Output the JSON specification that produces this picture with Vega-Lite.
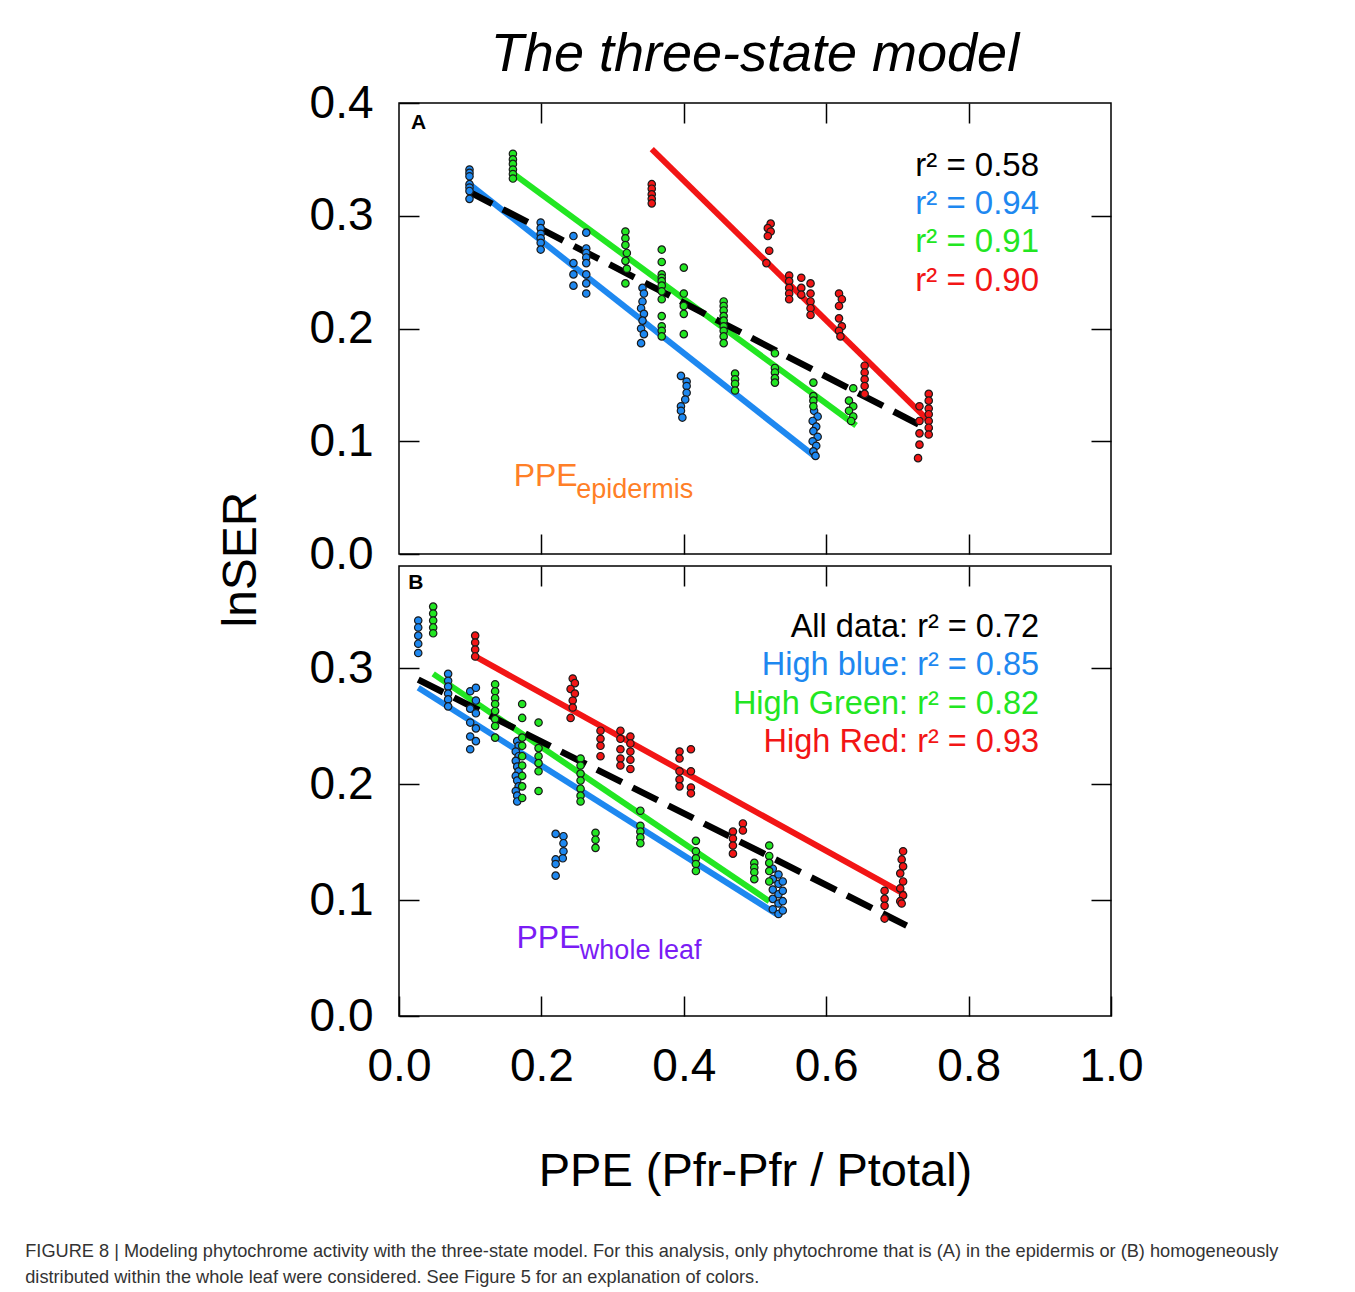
{
  "$schema": "https://vega.github.io/schema/vega-lite/v6.json",
  "padding": {"left": 25, "top": 27, "right": 5, "bottom": 5},
  "title": {
    "text": ["FIGURE 8 | Modeling phytochrome activity with the three-state model. For this analysis, only phytochrome that is (A) in the epidermis or (B) homogeneously", "distributed within the whole leaf were considered. See Figure 5 for an explanation of colors."],
    "orient": "bottom", "anchor": "start", "frame": "bounds", "dx": -191,
    "fontSize": 18.2, "fontWeight": "normal", "font": "Liberation Sans", "color": "#333333", "lineHeight": 26, "offset": 48
  },
  "datasets": {
    "ptsA": [
      {"g":"blue","x":0.099,"y":0.341},{"g":"blue","x":0.099,"y":0.338},{"g":"blue","x":0.099,"y":0.335},{"g":"blue","x":0.099,"y":0.328},{"g":"blue","x":0.099,"y":0.325},{"g":"blue","x":0.099,"y":0.322},{"g":"blue","x":0.099,"y":0.315},
      {"g":"blue","x":0.199,"y":0.294},{"g":"blue","x":0.199,"y":0.289},{"g":"blue","x":0.199,"y":0.284},{"g":"blue","x":0.199,"y":0.280},{"g":"blue","x":0.199,"y":0.276},{"g":"blue","x":0.199,"y":0.270},
      {"g":"blue","x":0.245,"y":0.282},{"g":"blue","x":0.245,"y":0.258},{"g":"blue","x":0.245,"y":0.248},{"g":"blue","x":0.245,"y":0.238},
      {"g":"blue","x":0.263,"y":0.285},{"g":"blue","x":0.263,"y":0.271},{"g":"blue","x":0.263,"y":0.267},{"g":"blue","x":0.263,"y":0.263},{"g":"blue","x":0.263,"y":0.258},{"g":"blue","x":0.263,"y":0.248},{"g":"blue","x":0.263,"y":0.240},{"g":"blue","x":0.263,"y":0.231},
      {"g":"blue","x":0.342,"y":0.236},{"g":"blue","x":0.344,"y":0.231},{"g":"blue","x":0.342,"y":0.224},{"g":"blue","x":0.340,"y":0.218},{"g":"blue","x":0.344,"y":0.213},{"g":"blue","x":0.342,"y":0.207},{"g":"blue","x":0.340,"y":0.200},{"g":"blue","x":0.344,"y":0.195},{"g":"blue","x":0.340,"y":0.187},
      {"g":"blue","x":0.396,"y":0.158},{"g":"blue","x":0.404,"y":0.153},{"g":"blue","x":0.404,"y":0.149},{"g":"blue","x":0.404,"y":0.143},{"g":"blue","x":0.402,"y":0.137},{"g":"blue","x":0.396,"y":0.131},{"g":"blue","x":0.396,"y":0.127},{"g":"blue","x":0.398,"y":0.121},
      {"g":"blue","x":0.583,"y":0.127},{"g":"blue","x":0.588,"y":0.122},{"g":"blue","x":0.581,"y":0.118},{"g":"blue","x":0.586,"y":0.113},{"g":"blue","x":0.582,"y":0.109},{"g":"blue","x":0.588,"y":0.104},{"g":"blue","x":0.581,"y":0.100},{"g":"blue","x":0.586,"y":0.096},{"g":"blue","x":0.582,"y":0.091},{"g":"blue","x":0.585,"y":0.087},
      {"g":"green","x":0.160,"y":0.355},{"g":"green","x":0.160,"y":0.350},{"g":"green","x":0.160,"y":0.346},{"g":"green","x":0.160,"y":0.341},{"g":"green","x":0.160,"y":0.337},{"g":"green","x":0.160,"y":0.333},
      {"g":"green","x":0.318,"y":0.286},{"g":"green","x":0.318,"y":0.280},{"g":"green","x":0.318,"y":0.274},{"g":"green","x":0.320,"y":0.267},{"g":"green","x":0.318,"y":0.260},{"g":"green","x":0.320,"y":0.253},{"g":"green","x":0.318,"y":0.240},
      {"g":"green","x":0.369,"y":0.270},{"g":"green","x":0.369,"y":0.259},{"g":"green","x":0.369,"y":0.248},{"g":"green","x":0.369,"y":0.245},{"g":"green","x":0.369,"y":0.242},{"g":"green","x":0.369,"y":0.238},{"g":"green","x":0.369,"y":0.233},{"g":"green","x":0.369,"y":0.226},{"g":"green","x":0.369,"y":0.211},{"g":"green","x":0.369,"y":0.202},{"g":"green","x":0.369,"y":0.198},{"g":"green","x":0.369,"y":0.193},
      {"g":"green","x":0.400,"y":0.254},{"g":"green","x":0.400,"y":0.231},{"g":"green","x":0.400,"y":0.220},{"g":"green","x":0.400,"y":0.213},{"g":"green","x":0.400,"y":0.195},
      {"g":"green","x":0.456,"y":0.224},{"g":"green","x":0.456,"y":0.220},{"g":"green","x":0.456,"y":0.216},{"g":"green","x":0.456,"y":0.211},{"g":"green","x":0.456,"y":0.207},{"g":"green","x":0.456,"y":0.202},{"g":"green","x":0.456,"y":0.198},{"g":"green","x":0.456,"y":0.193},{"g":"green","x":0.456,"y":0.187},
      {"g":"green","x":0.472,"y":0.160},{"g":"green","x":0.472,"y":0.155},{"g":"green","x":0.472,"y":0.151},{"g":"green","x":0.472,"y":0.145},
      {"g":"green","x":0.528,"y":0.178},{"g":"green","x":0.528,"y":0.165},{"g":"green","x":0.528,"y":0.161},{"g":"green","x":0.528,"y":0.156},{"g":"green","x":0.528,"y":0.152},
      {"g":"green","x":0.582,"y":0.152},{"g":"green","x":0.582,"y":0.140},{"g":"green","x":0.582,"y":0.136},{"g":"green","x":0.582,"y":0.131},
      {"g":"green","x":0.638,"y":0.147},{"g":"green","x":0.632,"y":0.136},{"g":"green","x":0.638,"y":0.131},{"g":"green","x":0.632,"y":0.127},{"g":"green","x":0.638,"y":0.122},{"g":"green","x":0.635,"y":0.118},
      {"g":"red","x":0.355,"y":0.328},{"g":"red","x":0.355,"y":0.324},{"g":"red","x":0.355,"y":0.319},{"g":"red","x":0.355,"y":0.315},{"g":"red","x":0.355,"y":0.311},
      {"g":"red","x":0.522,"y":0.293},{"g":"red","x":0.518,"y":0.289},{"g":"red","x":0.522,"y":0.286},{"g":"red","x":0.518,"y":0.282},{"g":"red","x":0.520,"y":0.269},{"g":"red","x":0.516,"y":0.258},
      {"g":"red","x":0.548,"y":0.247},{"g":"red","x":0.548,"y":0.242},{"g":"red","x":0.548,"y":0.236},{"g":"red","x":0.548,"y":0.231},{"g":"red","x":0.548,"y":0.226},
      {"g":"red","x":0.565,"y":0.245},{"g":"red","x":0.565,"y":0.236},{"g":"red","x":0.565,"y":0.230},
      {"g":"red","x":0.578,"y":0.240},{"g":"red","x":0.578,"y":0.231},{"g":"red","x":0.578,"y":0.224},{"g":"red","x":0.578,"y":0.218},{"g":"red","x":0.578,"y":0.212},
      {"g":"red","x":0.618,"y":0.231},{"g":"red","x":0.622,"y":0.226},{"g":"red","x":0.618,"y":0.220},{"g":"red","x":0.618,"y":0.209},{"g":"red","x":0.622,"y":0.202},{"g":"red","x":0.618,"y":0.198},{"g":"red","x":0.620,"y":0.193},
      {"g":"red","x":0.654,"y":0.167},{"g":"red","x":0.654,"y":0.161},{"g":"red","x":0.654,"y":0.155},{"g":"red","x":0.654,"y":0.149},{"g":"red","x":0.654,"y":0.142},
      {"g":"red","x":0.744,"y":0.142},{"g":"red","x":0.744,"y":0.136},{"g":"red","x":0.744,"y":0.129},{"g":"red","x":0.744,"y":0.124},{"g":"red","x":0.744,"y":0.118},{"g":"red","x":0.744,"y":0.112},{"g":"red","x":0.744,"y":0.106},
      {"g":"red","x":0.731,"y":0.131},{"g":"red","x":0.731,"y":0.118},{"g":"red","x":0.731,"y":0.107},{"g":"red","x":0.731,"y":0.097},{"g":"red","x":0.729,"y":0.085}
    ],
    "ptsB": [
      {"g":"blue","x":0.027,"y":0.341},{"g":"blue","x":0.027,"y":0.335},{"g":"blue","x":0.027,"y":0.328},{"g":"blue","x":0.027,"y":0.321},{"g":"blue","x":0.027,"y":0.313},
      {"g":"blue","x":0.069,"y":0.295},{"g":"blue","x":0.069,"y":0.289},{"g":"blue","x":0.069,"y":0.284},{"g":"blue","x":0.069,"y":0.278},{"g":"blue","x":0.069,"y":0.273},{"g":"blue","x":0.069,"y":0.267},
      {"g":"blue","x":0.100,"y":0.280},{"g":"blue","x":0.100,"y":0.265},{"g":"blue","x":0.100,"y":0.253},{"g":"blue","x":0.100,"y":0.241},{"g":"blue","x":0.100,"y":0.230},
      {"g":"blue","x":0.108,"y":0.283},{"g":"blue","x":0.108,"y":0.272},{"g":"blue","x":0.108,"y":0.261},{"g":"blue","x":0.108,"y":0.248},{"g":"blue","x":0.108,"y":0.237},
      {"g":"blue","x":0.166,"y":0.237},{"g":"blue","x":0.168,"y":0.233},{"g":"blue","x":0.164,"y":0.228},{"g":"blue","x":0.168,"y":0.224},{"g":"blue","x":0.164,"y":0.220},{"g":"blue","x":0.166,"y":0.215},{"g":"blue","x":0.168,"y":0.211},{"g":"blue","x":0.164,"y":0.207},{"g":"blue","x":0.166,"y":0.203},{"g":"blue","x":0.168,"y":0.198},{"g":"blue","x":0.164,"y":0.194},{"g":"blue","x":0.166,"y":0.190},{"g":"blue","x":0.166,"y":0.185},
      {"g":"blue","x":0.220,"y":0.157},{"g":"blue","x":0.231,"y":0.155},{"g":"blue","x":0.231,"y":0.149},{"g":"blue","x":0.231,"y":0.142},{"g":"blue","x":0.230,"y":0.136},{"g":"blue","x":0.220,"y":0.135},{"g":"blue","x":0.220,"y":0.131},{"g":"blue","x":0.220,"y":0.121},
      {"g":"blue","x":0.525,"y":0.127},{"g":"blue","x":0.525,"y":0.118},{"g":"blue","x":0.525,"y":0.109},{"g":"blue","x":0.525,"y":0.101},{"g":"blue","x":0.525,"y":0.092},
      {"g":"blue","x":0.533,"y":0.122},{"g":"blue","x":0.533,"y":0.114},{"g":"blue","x":0.533,"y":0.105},{"g":"blue","x":0.533,"y":0.097},{"g":"blue","x":0.533,"y":0.088},
      {"g":"blue","x":0.539,"y":0.116},{"g":"blue","x":0.539,"y":0.108},{"g":"blue","x":0.539,"y":0.099},{"g":"blue","x":0.539,"y":0.091},
      {"g":"green","x":0.048,"y":0.353},{"g":"green","x":0.048,"y":0.347},{"g":"green","x":0.048,"y":0.341},{"g":"green","x":0.048,"y":0.335},{"g":"green","x":0.048,"y":0.330},
      {"g":"green","x":0.135,"y":0.286},{"g":"green","x":0.135,"y":0.280},{"g":"green","x":0.135,"y":0.274},{"g":"green","x":0.135,"y":0.269},{"g":"green","x":0.135,"y":0.263},{"g":"green","x":0.135,"y":0.256},{"g":"green","x":0.135,"y":0.250},{"g":"green","x":0.135,"y":0.240},
      {"g":"green","x":0.173,"y":0.269},{"g":"green","x":0.173,"y":0.257},{"g":"green","x":0.173,"y":0.240},{"g":"green","x":0.173,"y":0.233},{"g":"green","x":0.173,"y":0.224},{"g":"green","x":0.173,"y":0.216},{"g":"green","x":0.173,"y":0.207},{"g":"green","x":0.173,"y":0.198},{"g":"green","x":0.173,"y":0.188},
      {"g":"green","x":0.196,"y":0.253},{"g":"green","x":0.196,"y":0.231},{"g":"green","x":0.196,"y":0.224},{"g":"green","x":0.196,"y":0.218},{"g":"green","x":0.196,"y":0.211},{"g":"green","x":0.196,"y":0.194},
      {"g":"green","x":0.255,"y":0.222},{"g":"green","x":0.255,"y":0.216},{"g":"green","x":0.255,"y":0.209},{"g":"green","x":0.255,"y":0.203},{"g":"green","x":0.255,"y":0.196},{"g":"green","x":0.255,"y":0.190},{"g":"green","x":0.255,"y":0.185},
      {"g":"green","x":0.276,"y":0.158},{"g":"green","x":0.276,"y":0.152},{"g":"green","x":0.276,"y":0.145},
      {"g":"green","x":0.339,"y":0.177},{"g":"green","x":0.339,"y":0.164},{"g":"green","x":0.339,"y":0.159},{"g":"green","x":0.339,"y":0.154},{"g":"green","x":0.339,"y":0.149},
      {"g":"green","x":0.417,"y":0.151},{"g":"green","x":0.417,"y":0.142},{"g":"green","x":0.417,"y":0.136},{"g":"green","x":0.417,"y":0.131},{"g":"green","x":0.417,"y":0.125},
      {"g":"green","x":0.499,"y":0.132},{"g":"green","x":0.499,"y":0.128},{"g":"green","x":0.499,"y":0.124},{"g":"green","x":0.499,"y":0.118},
      {"g":"green","x":0.520,"y":0.147},{"g":"green","x":0.520,"y":0.138},{"g":"green","x":0.520,"y":0.132},{"g":"green","x":0.520,"y":0.125},{"g":"green","x":0.520,"y":0.116},
      {"g":"red","x":0.107,"y":0.328},{"g":"red","x":0.107,"y":0.322},{"g":"red","x":0.107,"y":0.316},{"g":"red","x":0.107,"y":0.310},
      {"g":"red","x":0.244,"y":0.291},{"g":"red","x":0.247,"y":0.287},{"g":"red","x":0.241,"y":0.282},{"g":"red","x":0.247,"y":0.278},{"g":"red","x":0.244,"y":0.272},{"g":"red","x":0.244,"y":0.266},{"g":"red","x":0.241,"y":0.257},
      {"g":"red","x":0.283,"y":0.246},{"g":"red","x":0.283,"y":0.239},{"g":"red","x":0.283,"y":0.233},{"g":"red","x":0.283,"y":0.224},
      {"g":"red","x":0.311,"y":0.246},{"g":"red","x":0.311,"y":0.239},{"g":"red","x":0.311,"y":0.230},{"g":"red","x":0.311,"y":0.222},{"g":"red","x":0.311,"y":0.216},
      {"g":"red","x":0.325,"y":0.241},{"g":"red","x":0.325,"y":0.235},{"g":"red","x":0.325,"y":0.228},{"g":"red","x":0.325,"y":0.221},{"g":"red","x":0.325,"y":0.213},
      {"g":"red","x":0.394,"y":0.228},{"g":"red","x":0.394,"y":0.222},{"g":"red","x":0.394,"y":0.211},{"g":"red","x":0.394,"y":0.204},{"g":"red","x":0.394,"y":0.198},
      {"g":"red","x":0.410,"y":0.230},{"g":"red","x":0.410,"y":0.211},{"g":"red","x":0.410,"y":0.197},{"g":"red","x":0.410,"y":0.192},
      {"g":"red","x":0.469,"y":0.159},{"g":"red","x":0.469,"y":0.153},{"g":"red","x":0.469,"y":0.147},{"g":"red","x":0.469,"y":0.140},
      {"g":"red","x":0.483,"y":0.166},{"g":"red","x":0.483,"y":0.160},
      {"g":"red","x":0.682,"y":0.108},{"g":"red","x":0.682,"y":0.101},{"g":"red","x":0.682,"y":0.095},{"g":"red","x":0.682,"y":0.084},
      {"g":"red","x":0.708,"y":0.142},{"g":"red","x":0.706,"y":0.135},{"g":"red","x":0.708,"y":0.129},{"g":"red","x":0.704,"y":0.123},{"g":"red","x":0.708,"y":0.116},{"g":"red","x":0.704,"y":0.110},{"g":"red","x":0.708,"y":0.104},{"g":"red","x":0.704,"y":0.099},{"g":"red","x":0.706,"y":0.097}
    ],
    "linesA": [
      {"g":"blue","x":0.099,"y":0.328},{"g":"blue","x":0.583,"y":0.087},
      {"g":"green","x":0.159,"y":0.338},{"g":"green","x":0.642,"y":0.114},
      {"g":"red","x":0.355,"y":0.359},{"g":"red","x":0.744,"y":0.118},
      {"g":"all","x":0.096,"y":0.322},{"g":"all","x":0.748,"y":0.109}
    ],
    "linesB": [
      {"g":"blue","x":0.027,"y":0.283},{"g":"blue","x":0.530,"y":0.088},
      {"g":"green","x":0.048,"y":0.295},{"g":"green","x":0.520,"y":0.099},
      {"g":"red","x":0.107,"y":0.310},{"g":"red","x":0.710,"y":0.105},
      {"g":"all","x":0.027,"y":0.290},{"g":"all","x":0.713,"y":0.078}
    ],
    "notesA": [
      {"role":"stat","g":"all","t":"r² = 0.58","x":0.899,"y":0.344},
      {"role":"stat","g":"blue","t":"r² = 0.94","x":0.899,"y":0.310},
      {"role":"stat","g":"green","t":"r² = 0.91","x":0.899,"y":0.277},
      {"role":"stat","g":"red","t":"r² = 0.90","x":0.899,"y":0.242},
      {"role":"main","g":"epi","t":"PPE","x":0.161,"y":0.069},
      {"role":"sub","g":"epi","t":"epidermis","x":0.249,"y":0.057},
      {"role":"panel","g":"all","t":"A","x":0.017,"y":0.382}
    ],
    "notesB": [
      {"role":"stat","g":"all","t":"All data: r² = 0.72","x":0.899,"y":0.335},
      {"role":"stat","g":"blue","t":"High blue: r² = 0.85","x":0.899,"y":0.303},
      {"role":"stat","g":"green","t":"High Green: r² = 0.82","x":0.899,"y":0.269},
      {"role":"stat","g":"red","t":"High Red: r² = 0.93","x":0.899,"y":0.236},
      {"role":"main","g":"whole","t":"PPE","x":0.165,"y":0.067},
      {"role":"sub","g":"whole","t":"whole leaf","x":0.254,"y":0.056},
      {"role":"panel","g":"all","t":"B","x":0.013,"y":0.373}
    ]
  },
  "spacing": 12,
  "bounds": "flush",
  "vconcat": [
    {
      "width": 712, "height": 451,
      "title": {"text": "The three-state model", "fontSize": 54, "fontStyle": "italic", "fontWeight": "normal", "font": "Liberation Sans", "color": "black", "anchor": "middle", "offset": -2},
      "layer": [
        {
          "data": {"name": "linesA"},
          "transform": [{"filter": "datum.g != 'all'"}],
          "mark": {"type": "line", "strokeWidth": 6, "strokeCap": "butt"},
          "encoding": {
            "x": {"field": "x", "type": "quantitative", "scale": {"domain": [0, 1], "nice": false}, "axis": {"orient": "top", "values": [0.2, 0.4, 0.6, 0.8], "labels": false, "title": null}},
            "y": {"field": "y", "type": "quantitative", "scale": {"domain": [0, 0.4], "nice": false}, "axis": {"orient": "right", "values": [0.1, 0.2, 0.3], "labels": false, "title": null}},
            "color": {"field": "g", "type": "nominal", "legend": null, "scale": {"domain": ["all", "blue", "green", "red", "epi", "whole"], "range": ["#000000", "#1E88F0", "#22E622", "#F21515", "#FF7F27", "#7A1CF5"]}}
          }
        },
        {
          "data": {"name": "linesA"},
          "transform": [{"filter": "datum.g == 'all'"}],
          "mark": {"type": "line", "strokeWidth": 6.5, "strokeDash": [28, 12], "color": "black", "strokeCap": "butt"},
          "encoding": {
            "x": {"field": "x", "type": "quantitative", "axis": null},
            "y": {"field": "y", "type": "quantitative", "axis": null}
          }
        },
        {
          "data": {"name": "ptsA"},
          "mark": {"type": "circle", "size": 55, "opacity": 1, "stroke": "#1a1a1a", "strokeWidth": 1.2},
          "encoding": {
            "x": {"field": "x", "type": "quantitative", "axis": {"orient": "bottom", "values": [0.2, 0.4, 0.6, 0.8], "labels": false, "title": null}},
            "y": {"field": "y", "type": "quantitative", "axis": {"orient": "left", "values": [0, 0.1, 0.2, 0.3, 0.4], "format": ".1f", "labelPadding": 46, "title": "lnSER", "titleFontSize": 48, "titleX": -158, "titleY": 456, "titleBaseline": "middle", "titleAlign": "center", "titleAngle": -90}},
            "color": {"field": "g", "type": "nominal", "legend": null, "scale": {"domain": ["all", "blue", "green", "red", "epi", "whole"], "range": ["#000000", "#1E88F0", "#22E622", "#F21515", "#FF7F27", "#7A1CF5"]}}
          }
        },
        {
          "data": {"name": "notesA"},
          "transform": [{"filter": "datum.role == 'stat'"}],
          "mark": {"type": "text", "align": "right", "baseline": "middle", "fontSize": 33, "font": "Liberation Sans"},
          "encoding": {
            "x": {"field": "x", "type": "quantitative", "axis": null},
            "y": {"field": "y", "type": "quantitative", "axis": null},
            "text": {"field": "t"},
            "color": {"field": "g", "type": "nominal", "legend": null, "scale": {"domain": ["all", "blue", "green", "red", "epi", "whole"], "range": ["#000000", "#1E88F0", "#22E622", "#F21515", "#FF7F27", "#7A1CF5"]}}
          }
        },
        {
          "data": {"name": "notesA"},
          "transform": [{"filter": "datum.role == 'main'"}],
          "mark": {"type": "text", "align": "left", "baseline": "middle", "fontSize": 32, "font": "Liberation Sans"},
          "encoding": {
            "x": {"field": "x", "type": "quantitative", "axis": null},
            "y": {"field": "y", "type": "quantitative", "axis": null},
            "text": {"field": "t"},
            "color": {"field": "g", "type": "nominal", "legend": null, "scale": {"domain": ["all", "blue", "green", "red", "epi", "whole"], "range": ["#000000", "#1E88F0", "#22E622", "#F21515", "#FF7F27", "#7A1CF5"]}}
          }
        },
        {
          "data": {"name": "notesA"},
          "transform": [{"filter": "datum.role == 'sub'"}],
          "mark": {"type": "text", "align": "left", "baseline": "middle", "fontSize": 27, "font": "Liberation Sans"},
          "encoding": {
            "x": {"field": "x", "type": "quantitative", "axis": null},
            "y": {"field": "y", "type": "quantitative", "axis": null},
            "text": {"field": "t"},
            "color": {"field": "g", "type": "nominal", "legend": null, "scale": {"domain": ["all", "blue", "green", "red", "epi", "whole"], "range": ["#000000", "#1E88F0", "#22E622", "#F21515", "#FF7F27", "#7A1CF5"]}}
          }
        },
        {
          "data": {"name": "notesA"},
          "transform": [{"filter": "datum.role == 'panel'"}],
          "mark": {"type": "text", "align": "left", "baseline": "middle", "fontSize": 21, "fontWeight": "bold", "font": "Liberation Sans", "color": "black"},
          "encoding": {
            "x": {"field": "x", "type": "quantitative", "axis": null},
            "y": {"field": "y", "type": "quantitative", "axis": null},
            "text": {"field": "t"}
          }
        }
      ],
      "resolve": {"axis": {"x": "independent", "y": "independent"}}
    },
    {
      "width": 712, "height": 450,
      "layer": [
        {
          "data": {"name": "linesB"},
          "transform": [{"filter": "datum.g != 'all'"}],
          "mark": {"type": "line", "strokeWidth": 6, "strokeCap": "butt"},
          "encoding": {
            "x": {"field": "x", "type": "quantitative", "scale": {"domain": [0, 1], "nice": false}, "axis": {"orient": "top", "values": [0.2, 0.4, 0.6, 0.8], "labels": false, "title": null}},
            "y": {"field": "y", "type": "quantitative", "scale": {"domain": [0, 0.388], "nice": false}, "axis": {"orient": "right", "values": [0.1, 0.2, 0.3], "labels": false, "title": null}},
            "color": {"field": "g", "type": "nominal", "legend": null, "scale": {"domain": ["all", "blue", "green", "red", "epi", "whole"], "range": ["#000000", "#1E88F0", "#22E622", "#F21515", "#FF7F27", "#7A1CF5"]}}
          }
        },
        {
          "data": {"name": "linesB"},
          "transform": [{"filter": "datum.g == 'all'"}],
          "mark": {"type": "line", "strokeWidth": 6.5, "strokeDash": [28, 12], "color": "black", "strokeCap": "butt"},
          "encoding": {
            "x": {"field": "x", "type": "quantitative", "axis": null},
            "y": {"field": "y", "type": "quantitative", "axis": null}
          }
        },
        {
          "data": {"name": "ptsB"},
          "mark": {"type": "circle", "size": 55, "opacity": 1, "stroke": "#1a1a1a", "strokeWidth": 1.2},
          "encoding": {
            "x": {"field": "x", "type": "quantitative", "axis": {"orient": "bottom", "values": [0, 0.2, 0.4, 0.6, 0.8, 1], "format": ".1f", "labelPadding": 70, "title": "PPE (Pfr-Pfr / Ptotal)", "titleFontSize": 47, "titleY": 155, "titleBaseline": "middle"}},
            "y": {"field": "y", "type": "quantitative", "axis": {"orient": "left", "values": [0, 0.1, 0.2, 0.3], "format": ".1f", "labelPadding": 46, "title": null}},
            "color": {"field": "g", "type": "nominal", "legend": null, "scale": {"domain": ["all", "blue", "green", "red", "epi", "whole"], "range": ["#000000", "#1E88F0", "#22E622", "#F21515", "#FF7F27", "#7A1CF5"]}}
          }
        },
        {
          "data": {"name": "notesB"},
          "transform": [{"filter": "datum.role == 'stat'"}],
          "mark": {"type": "text", "align": "right", "baseline": "middle", "fontSize": 32.5, "font": "Liberation Sans"},
          "encoding": {
            "x": {"field": "x", "type": "quantitative", "axis": null},
            "y": {"field": "y", "type": "quantitative", "axis": null},
            "text": {"field": "t"},
            "color": {"field": "g", "type": "nominal", "legend": null, "scale": {"domain": ["all", "blue", "green", "red", "epi", "whole"], "range": ["#000000", "#1E88F0", "#22E622", "#F21515", "#FF7F27", "#7A1CF5"]}}
          }
        },
        {
          "data": {"name": "notesB"},
          "transform": [{"filter": "datum.role == 'main'"}],
          "mark": {"type": "text", "align": "left", "baseline": "middle", "fontSize": 32, "font": "Liberation Sans"},
          "encoding": {
            "x": {"field": "x", "type": "quantitative", "axis": null},
            "y": {"field": "y", "type": "quantitative", "axis": null},
            "text": {"field": "t"},
            "color": {"field": "g", "type": "nominal", "legend": null, "scale": {"domain": ["all", "blue", "green", "red", "epi", "whole"], "range": ["#000000", "#1E88F0", "#22E622", "#F21515", "#FF7F27", "#7A1CF5"]}}
          }
        },
        {
          "data": {"name": "notesB"},
          "transform": [{"filter": "datum.role == 'sub'"}],
          "mark": {"type": "text", "align": "left", "baseline": "middle", "fontSize": 27, "font": "Liberation Sans"},
          "encoding": {
            "x": {"field": "x", "type": "quantitative", "axis": null},
            "y": {"field": "y", "type": "quantitative", "axis": null},
            "text": {"field": "t"},
            "color": {"field": "g", "type": "nominal", "legend": null, "scale": {"domain": ["all", "blue", "green", "red", "epi", "whole"], "range": ["#000000", "#1E88F0", "#22E622", "#F21515", "#FF7F27", "#7A1CF5"]}}
          }
        },
        {
          "data": {"name": "notesB"},
          "transform": [{"filter": "datum.role == 'panel'"}],
          "mark": {"type": "text", "align": "left", "baseline": "middle", "fontSize": 21, "fontWeight": "bold", "font": "Liberation Sans", "color": "black"},
          "encoding": {
            "x": {"field": "x", "type": "quantitative", "axis": null},
            "y": {"field": "y", "type": "quantitative", "axis": null},
            "text": {"field": "t"}
          }
        }
      ],
      "resolve": {"axis": {"x": "independent", "y": "independent"}}
    }
  ],
  "config": {
    "background": "white",
    "font": "Liberation Sans",
    "view": {"stroke": "black", "strokeWidth": 1.5},
    "axis": {
      "grid": false, "domain": false,
      "tickColor": "black", "tickWidth": 1.5, "tickSize": -20,
      "labelFont": "Liberation Sans", "labelFontSize": 46, "labelColor": "black", "labelFlush": false, "labelOverlap": false,
      "titleFont": "Liberation Sans", "titleFontWeight": "normal", "titleColor": "black"
    },
    "axisY": {"labelBaseline": "middle"},
    "axisX": {"labelBaseline": "middle"}
  }
}
